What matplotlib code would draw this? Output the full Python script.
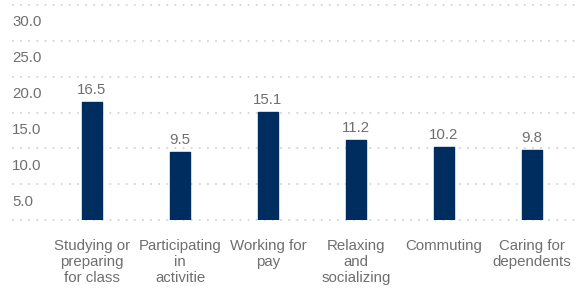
"""Bar chart: hours per week spent on activities."""

import matplotlib

matplotlib.use("Agg")

import matplotlib.pyplot as plt
import matplotlib.transforms as mtransforms

plt.rcParams["font.family"] = ["Liberation Sans", "DejaVu Sans"]

categories = [
    "Studying or\npreparing\nfor class",
    "Participating\nin\nactivitie",
    "Working for\npay",
    "Relaxing\nand\nsocializing",
    "Commuting",
    "Caring for\ndependents",
]
hours = [16.5, 9.5, 15.1, 11.2, 10.2, 9.8]
grid_values = [0, 5, 10, 15, 20, 25, 30]
ytick_values = [5, 10, 15, 20, 25, 30]
ytick_labels = ["5.0", "10.0", "15.0", "20.0", "25.0", "30.0"]

BAR = "#002d5f"
TEXT = "#6f6f6f"
GRID = "#d4d4d4"
FS = 10.8

W, H = 577, 293
fig = plt.figure(figsize=(W / 100, H / 100), dpi=100)
ax = fig.add_axes([12 / W, (H - 220) / H, 565 / W, 215 / H])

x = list(range(len(categories)))
ax.bar(x, hours, width=20 / 88, color=BAR, edgecolor=BAR, linewidth=1,
       joinstyle="round", zorder=3)

for xi, v in zip(x, hours):
    ax.annotate(f"{v:.1f}", (xi, v), xytext=(0, 3.5), textcoords="offset points",
                ha="center", va="bottom", fontsize=FS, color=TEXT)

for g in grid_values:
    ax.axhline(g, color=GRID, linewidth=1.3, linestyle=(0, (1, 3.5)),
               zorder=1, clip_on=False)

ax.set_xlim(-80 / 88, 485 / 88)
ax.set_ylim(0, 30)

ax.set_xticks(x)
ax.set_xticklabels(categories, fontsize=FS, color=TEXT, linespacing=1.2)
ax.tick_params(axis="x", length=0, pad=13.5)

ax.set_yticks(ytick_values)
ax.set_yticklabels(ytick_labels, fontsize=FS, color=TEXT)
ax.tick_params(axis="y", length=0, pad=0)
shift = mtransforms.ScaledTranslation(0, -16 / 100, fig.dpi_scale_trans)
for lab in ax.get_yticklabels():
    lab.set_horizontalalignment("left")
    lab.set_transform(lab.get_transform() + shift)

for s in ax.spines.values():
    s.set_visible(False)

fig.savefig("out.png", dpi=100)
